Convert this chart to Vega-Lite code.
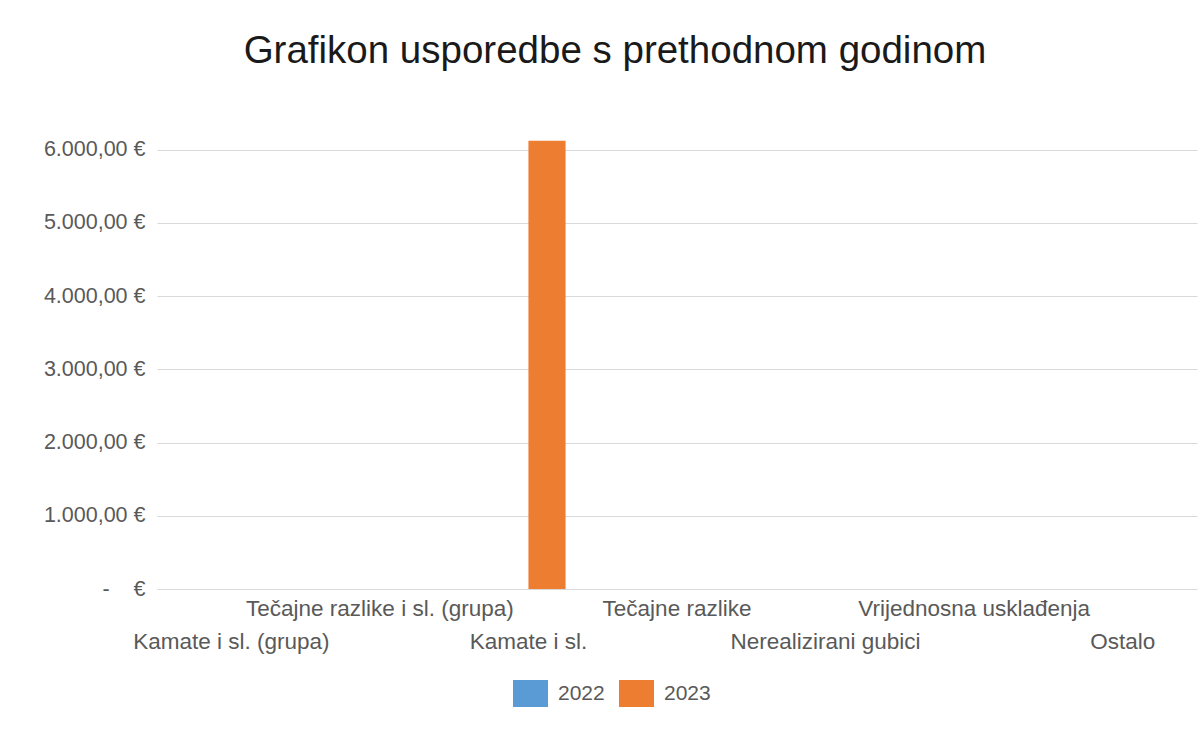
{
  "$schema": "https://vega.github.io/schema/vega-lite/v6.json",
  "width": 1040,
  "height": 454,
  "autosize": {"type": "none"},
  "padding": {"left": 157, "top": 135, "right": 6, "bottom": 142},
  "background": "white",
  "title": {
    "text": "Grafikon usporedbe s prethodnom godinom",
    "font": "Liberation Sans",
    "fontSize": 38.5,
    "fontWeight": "normal",
    "color": "#1a1a1a",
    "anchor": "middle",
    "dx": -62,
    "offset": 64
  },
  "data": {
    "values": [
      {"kategorija": "Kamate i sl. (grupa)", "godina": "2022", "iznos": 0},
      {"kategorija": "Kamate i sl. (grupa)", "godina": "2023", "iznos": 0},
      {"kategorija": "Tečajne razlike i sl. (grupa)", "godina": "2022", "iznos": 0},
      {"kategorija": "Tečajne razlike i sl. (grupa)", "godina": "2023", "iznos": 0},
      {"kategorija": "Kamate i sl.", "godina": "2022", "iznos": 0},
      {"kategorija": "Kamate i sl.", "godina": "2023", "iznos": 6123},
      {"kategorija": "Tečajne razlike", "godina": "2022", "iznos": 0},
      {"kategorija": "Tečajne razlike", "godina": "2023", "iznos": 0},
      {"kategorija": "Nerealizirani gubici", "godina": "2022", "iznos": 0},
      {"kategorija": "Nerealizirani gubici", "godina": "2023", "iznos": 0},
      {"kategorija": "Vrijednosna usklađenja", "godina": "2022", "iznos": 0},
      {"kategorija": "Vrijednosna usklađenja", "godina": "2023", "iznos": 0},
      {"kategorija": "Ostalo", "godina": "2022", "iznos": 0},
      {"kategorija": "Ostalo", "godina": "2023", "iznos": 0}
    ]
  },
  "mark": {"type": "bar"},
  "encoding": {
    "x": {
      "field": "kategorija",
      "type": "nominal",
      "sort": null,
      "scale": {"paddingInner": 0, "paddingOuter": 0},
      "axis": {
        "title": null,
        "labelAngle": 0,
        "domain": false,
        "ticks": false,
        "labelFont": "Liberation Sans",
        "labelFontSize": 22.5,
        "labelColor": "#595959",
        "labelPadding": 8,
        "labelLimit": 400,
        "labelLineHeight": 33,
        "labelOverlap": false,
        "labelExpr": "indexof(['Tečajne razlike i sl. (grupa)','Tečajne razlike','Vrijednosna usklađenja'], datum.value) >= 0 ? datum.value : ['', datum.value]"
      }
    },
    "xOffset": {
      "field": "godina",
      "type": "nominal",
      "scale": {"paddingInner": 0, "paddingOuter": 1}
    },
    "y": {
      "field": "iznos",
      "type": "quantitative",
      "scale": {"domain": [0, 6200], "nice": false},
      "axis": {
        "title": null,
        "values": [0, 1000, 2000, 3000, 4000, 5000, 6000],
        "domain": false,
        "ticks": false,
        "grid": true,
        "gridColor": "#d9d9d9",
        "gridWidth": 1,
        "labelFont": "Liberation Sans",
        "labelFontSize": 21.5,
        "labelColor": "#595959",
        "labelPadding": 12,
        "labelExpr": "datum.value == 0 ? '-\u00a0\u00a0\u00a0\u00a0€' : format(datum.value / 1000, 'd') + '.000,00 €'"
      }
    },
    "color": {
      "field": "godina",
      "type": "nominal",
      "scale": {"domain": ["2022", "2023"], "range": ["#5b9bd5", "#ed7d31"]},
      "legend": {
        "title": null,
        "orient": "none",
        "direction": "horizontal",
        "legendX": 356,
        "legendY": 541,
        "symbolType": "M-1,-0.77H1V0.77H-1Z",
        "symbolSize": 1225,
        "symbolStrokeWidth": 0,
        "labelFont": "Liberation Sans",
        "labelFontSize": 21,
        "labelColor": "#595959",
        "labelOffset": 10,
        "columnPadding": 14
      }
    }
  },
  "config": {
    "view": {"stroke": null}
  }
}
